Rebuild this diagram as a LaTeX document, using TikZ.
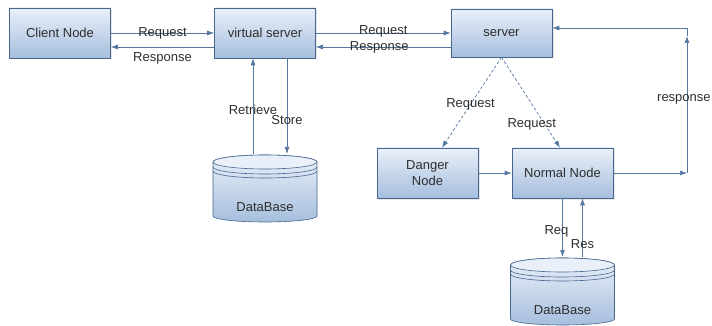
\documentclass[tikz,border=0pt]{standalone}
\usepackage{fontspec}
\setmainfont{Liberation Sans}
\usetikzlibrary{arrows.meta,shadows}
\definecolor{boxtop}{HTML}{E9F0F9}
\definecolor{boxbot}{HTML}{A6BEDD}
\definecolor{boxline}{HTML}{47668F}
\definecolor{wirec}{HTML}{55769E}
\definecolor{txt}{HTML}{2E2E2E}

\tikzset{
  blockbox/.style={draw=boxline, line width=0.6pt, top color=boxtop, bottom color=boxbot,
    minimum width=101pt, minimum height=50pt, inner sep=2pt, align=center,
    drop shadow={opacity=0.18, shadow xshift=1.5pt, shadow yshift=-1.5pt}},
  arr/.style={draw=wirec, line width=0.7pt, -{Latex[length=7pt,width=5pt]}},
  tag/.style={inner sep=0pt, text=txt},
  % cylinder-shaped data store; origin = centre of the top ellipse
  dbase/.pic={
    \path[draw=boxline, line width=0.6pt, top color=boxtop, bottom color=boxbot]
      (-52,0) -- (-52,54) .. controls (-52,57.3) and (-28.7,60) .. (0,60)
      .. controls (28.7,60) and (52,57.3) .. (52,54) -- (52,0)
      .. controls (52,-3.9) and (28.7,-7) .. (0,-7)
      .. controls (-28.7,-7) and (-52,-3.9) .. (-52,0) -- cycle;
    \draw[boxline, line width=0.6pt, fill=boxtop] (0,0) ellipse [x radius=52, y radius=7];
    \draw[boxline, line width=0.6pt]
      (-52,5) .. controls (-52,8.9) and (-28.7,12) .. (0,12)
      .. controls (28.7,12) and (52,8.9) .. (52,5);
    \draw[boxline, line width=0.6pt]
      (-52,9) .. controls (-52,12.9) and (-28.7,16) .. (0,16)
      .. controls (28.7,16) and (52,12.9) .. (52,9);
    \coordinate (-top) at (0,-8);
    \node[tag] (-label) at (0,45) {DataBase};
  }
}

\begin{document}
\begin{tikzpicture}[x=1pt, y=-1pt, font=\fontsize{13}{16}\selectfont, text=txt]
  \useasboundingbox (0,0) rectangle (712,326);

  % blocks
  \node[blockbox] (client) at (60,33) {Client Node};
  \node[blockbox] (vs) at (265,33) {virtual server};
  \node[blockbox, minimum height=48pt] (server) at (501.5,33) {server};
  \node[blockbox] (danger) at (427.5,173) {Danger\\Node};
  \node[blockbox] (normal) at (562.5,173) {Normal Node};

  % data stores
  \pic (db1) at (265,162) {dbase};
  \pic (db2) at (562.5,265) {dbase};

  % client <-> virtual server
  \draw[arr] (client.east) -- (vs.west) node[tag, midway] {Request};
  \draw[arr] ([yshift=-14pt]vs.west) -- ([yshift=-14pt]client.east)
    node[tag, midway, below=5pt] {Response};

  % virtual server <-> server
  \draw[arr] (vs.east) -- (server.west) node[tag, midway, yshift=2pt] {Request};
  \draw[arr] ([yshift=-14pt]server.west) -- ([yshift=-14pt]vs.east)
    node[tag, midway, xshift=-4pt] {Response};

  % virtual server <-> database
  \draw[arr] ([xshift=-12pt]db1-top) -- ([xshift=-12pt]vs.south)
    node[tag, pos=0.46] {Retrieve};
  \draw[arr] ([xshift=22pt]vs.south) -- ([xshift=22pt]db1-top)
    node[tag, pos=0.64] {Store};

  % server dispatches requests
  \draw[arr, dash pattern=on 3pt off 2pt] (server.south) -- ([xshift=14.5pt]danger.north)
    node[tag, pos=0.52] {Request};
  \draw[arr, dash pattern=on 3pt off 2pt] (server.south) -- ([xshift=-2.5pt]normal.north)
    node[tag, pos=0.74, xshift=-13pt] {Request};

  \draw[arr] (danger) -- (normal);

  % response path back to the server
  \coordinate (rc) at (687,173);
  \coordinate (rmid) at (687,36);
  \coordinate (rtop) at (687,28);
  \draw[arr] (normal.east) -- (rc);
  \draw[arr] (rc) -- (rmid)
    node[tag, pos=0.54, anchor=east, xshift=24pt] {response};
  \draw[arr] (rmid) -- (rtop) -- ([yshift=5pt]server.east);

  % normal node <-> database
  \draw[arr] (normal.south) -- (db2-top)
    node[tag, pos=0.57, xshift=-6pt] {Req};
  \draw[arr] ([xshift=20pt]db2-top) -- ([xshift=20pt]normal.south)
    node[tag, pos=0.22] {Res};
\end{tikzpicture}
\end{document}
